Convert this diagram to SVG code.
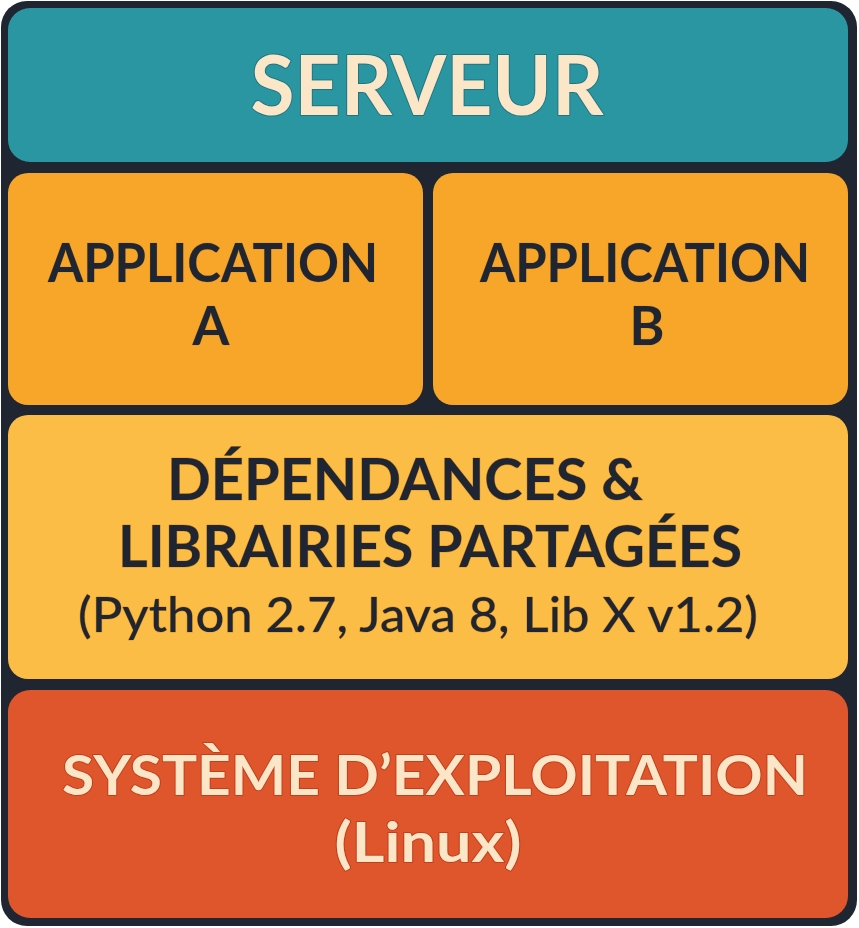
<svg xmlns="http://www.w3.org/2000/svg" width="859" height="928" viewBox="0 0 859 928">
  <style>
    .t { font-family: Lato, "Open Sans", "Liberation Sans", sans-serif; font-weight: 700; text-anchor: middle; paint-order: stroke; stroke-linejoin: round; }
    .cream { fill: #fbe6c8; }
    .dark { fill: #1f2533; stroke: #e39a1c; stroke-width: 1; }
    .sub { font-weight: 500; }
  </style>
  <rect x="1" y="1" width="856" height="925" rx="26" fill="#1f2531"/>
  <g id="serveur">
    <rect x="8" y="8" width="840" height="154" rx="22" fill="#2a96a2"/>
    <text class="t cream" x="427" y="115" font-size="82" textLength="353" lengthAdjust="spacingAndGlyphs" stroke="#1f7480" stroke-width="2">SERVEUR</text>
  </g>
  <g id="app-a">
    <rect x="8" y="173" width="415" height="232" rx="20" fill="#f8a62a"/>
    <text class="t dark" x="213" y="282" font-size="53" textLength="330" lengthAdjust="spacingAndGlyphs">APPLICATION</text>
    <text class="t dark" x="211" y="345" font-size="53">A</text>
  </g>
  <g id="app-b">
    <rect x="433" y="173" width="415" height="232" rx="20" fill="#f8a62a"/>
    <text class="t dark" x="645" y="282" font-size="53" textLength="330" lengthAdjust="spacingAndGlyphs">APPLICATION</text>
    <text class="t dark" x="647" y="345" font-size="53">B</text>
  </g>
  <g id="dependances">
    <rect x="8" y="415" width="840" height="264" rx="20" fill="#fbbd46"/>
    <text class="t dark" x="405" y="500" font-size="58" textLength="476" lengthAdjust="spacingAndGlyphs">DÉPENDANCES &amp;</text>
    <text class="t dark" x="430" y="567" font-size="58" textLength="624" lengthAdjust="spacingAndGlyphs">LIBRAIRIES PARTAGÉES</text>
    <text class="t dark sub" x="418" y="632" font-size="48" textLength="680" lengthAdjust="spacingAndGlyphs">(Python 2.7, Java 8, Lib X v1.2)</text>
  </g>
  <g id="systeme">
    <rect x="8" y="690" width="840" height="228" rx="22" fill="#e0562c"/>
    <text class="t cream" x="435" y="795" font-size="56" textLength="746" lengthAdjust="spacingAndGlyphs" stroke="#c43e1c" stroke-width="2">SYSTÈME D’EXPLOITATION</text>
    <text class="t cream" x="428" y="862" font-size="56" textLength="187" lengthAdjust="spacingAndGlyphs" stroke="#c43e1c" stroke-width="2">(Linux)</text>
  </g>
  <g id="connectors"></g>
</svg>
